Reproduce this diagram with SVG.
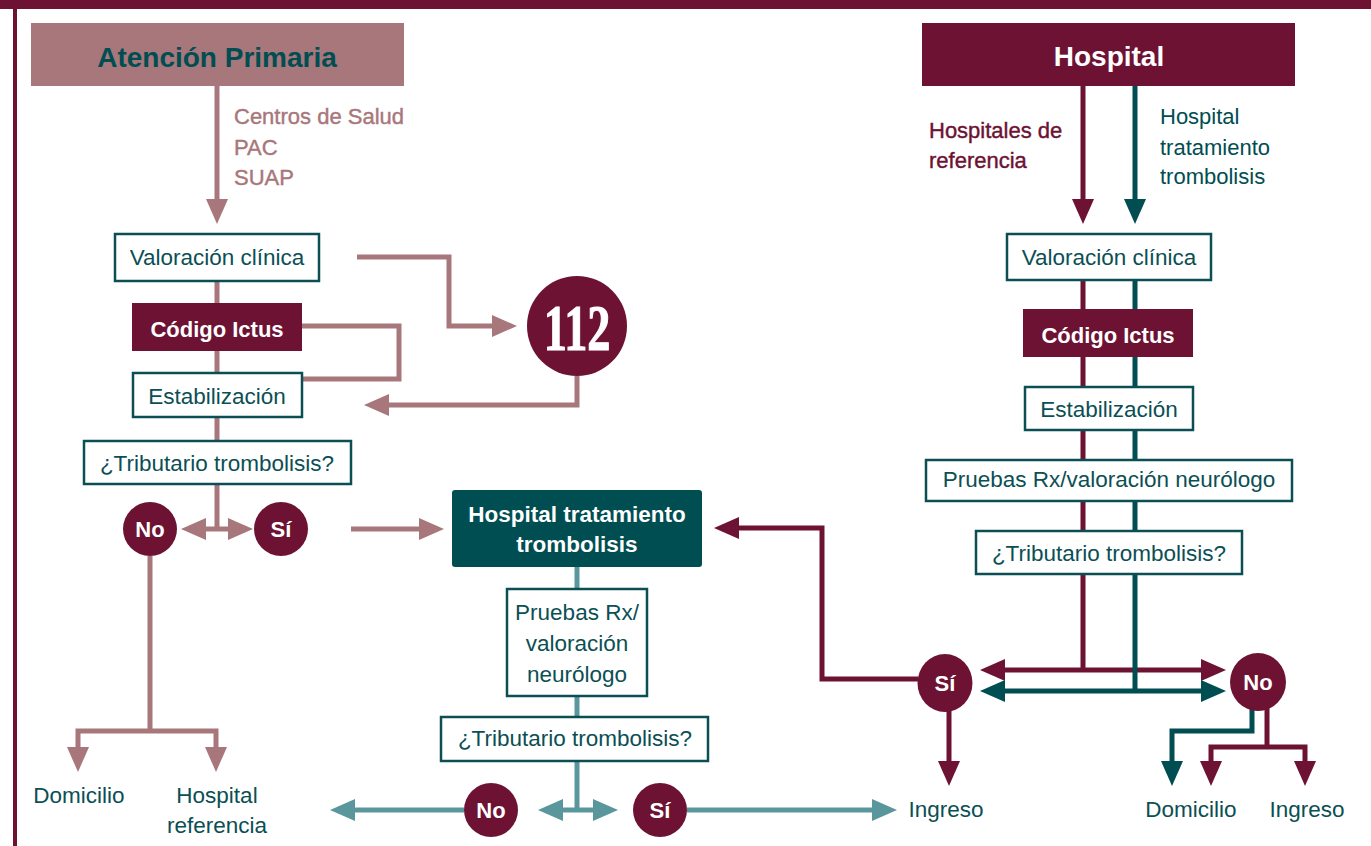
<svg xmlns="http://www.w3.org/2000/svg" width="1371" height="846" viewBox="0 0 1371 846">
<defs>
<style>
.t{font-family:"Liberation Sans",Arial,sans-serif;font-size:22.5px;fill:#0b4f55;text-anchor:middle}
.b{font-family:"Liberation Sans",Arial,sans-serif;font-weight:bold;fill:#fff;text-anchor:middle}
.box{fill:#fff;stroke:#0b4f55;stroke-width:2.5}
.mar{fill:#6d1233}
.c{fill:none;stroke-width:5;stroke-linejoin:miter}
.pk{stroke:#a8777b}
.mr{stroke:#6d1233}
.td{stroke:#004d52}
.tl{stroke:#5a979c}
</style>
<marker id="aPk" viewBox="0 0 25 22" refX="1" refY="11" markerWidth="25" markerHeight="22" markerUnits="userSpaceOnUse" orient="auto-start-reverse"><path d="M0,0 L25,11 L0,22 z" fill="#a8777b"/></marker>
<marker id="aMr" viewBox="0 0 25 22" refX="1" refY="11" markerWidth="25" markerHeight="22" markerUnits="userSpaceOnUse" orient="auto-start-reverse"><path d="M0,0 L25,11 L0,22 z" fill="#6d1233"/></marker>
<marker id="aTd" viewBox="0 0 25 22" refX="1" refY="11" markerWidth="25" markerHeight="22" markerUnits="userSpaceOnUse" orient="auto-start-reverse"><path d="M0,0 L25,11 L0,22 z" fill="#004d52"/></marker>
<marker id="aTl" viewBox="0 0 25 22" refX="1" refY="11" markerWidth="25" markerHeight="22" markerUnits="userSpaceOnUse" orient="auto-start-reverse"><path d="M0,0 L25,11 L0,22 z" fill="#5a979c"/></marker>
</defs>
<rect width="1371" height="846" fill="#fff"/>
<g id="frame">
<rect x="0" y="0" width="1371" height="9" fill="#6d1233"/>
<rect x="13" y="0" width="4" height="846" fill="#6d1233"/>
</g>

<g id="connectors">
<path class="c pk" d="M217,86 V200" marker-end="url(#aPk)"/>
<path class="c pk" d="M217,281 V529"/>
<path class="c pk" d="M205,529 H229" marker-start="url(#aPk)" marker-end="url(#aPk)"/>
<path class="c pk" d="M302,326 H399 V379 H302"/>
<path class="c pk" d="M357,257 H449 V326 H493" marker-end="url(#aPk)"/>
<path class="c pk" d="M577,376 V405 H388" marker-end="url(#aPk)"/>
<path class="c pk" d="M351,529 H420" marker-end="url(#aPk)"/>
<path class="c pk" d="M150,556 V731"/>
<path class="c pk" d="M78,748 V731 H216 V748" marker-start="url(#aPk)" marker-end="url(#aPk)"/>
<path class="c tl" d="M577,567 V810"/>
<path class="c tl" d="M562,810 H594" marker-start="url(#aTl)" marker-end="url(#aTl)"/>
<path class="c tl" d="M464,810 H354" marker-end="url(#aTl)"/>
<path class="c tl" d="M687,810 H873" marker-end="url(#aTl)"/>
<path class="c mr" d="M1083,86 V200" marker-end="url(#aMr)"/>
<path class="c mr" d="M1083,280 V670"/>
<path class="c mr" d="M1004,670 H1202" marker-start="url(#aMr)" marker-end="url(#aMr)"/>
<path class="c mr" d="M918,679 H822 V528 H738" marker-end="url(#aMr)"/>
<path class="c mr" d="M949,710 V762" marker-end="url(#aMr)"/>
<path class="c mr" d="M1267,708 V747"/>
<path class="c mr" d="M1211,762 V747 H1305 V762" marker-start="url(#aMr)" marker-end="url(#aMr)"/>
<path class="c td" d="M1135,86 V200" marker-end="url(#aTd)"/>
<path class="c td" d="M1135,280 V691"/>
<path class="c td" d="M1004,691 H1202" marker-start="url(#aTd)" marker-end="url(#aTd)"/>
<path class="c td" d="M1252,706 V731 H1172 V762" marker-end="url(#aTd)"/>
</g>

<g id="atencion-primaria">
<rect x="31" y="23" width="373" height="63" fill="#a8777b"/>
<text x="217" y="67" font-family="Liberation Sans,Arial,sans-serif" font-weight="bold" font-size="28" fill="#004d52" text-anchor="middle">Atención Primaria</text>
</g>
<g id="ap-label" font-family="Liberation Sans,Arial,sans-serif" font-size="22" fill="#a8777b" stroke="#a8777b" stroke-width="0.4">
<text x="234" y="124">Centros de Salud</text>
<text x="234" y="155">PAC</text>
<text x="234" y="185">SUAP</text>
</g>
<g id="l-valoracion"><rect class="box" x="115" y="234" width="204" height="47"/><text class="t" x="217" y="265">Valoración clínica</text></g>
<g id="l-codigo"><rect class="mar" x="132" y="303" width="170" height="48"/><text class="b" x="217" y="337" font-size="22">Código Ictus</text></g>
<g id="l-estab"><rect class="box" x="133" y="373" width="169" height="44"/><text class="t" x="217" y="404">Estabilización</text></g>
<g id="l-trib"><rect class="box" x="84" y="441" width="267" height="43"/><text class="t" x="217" y="471">¿Tributario trombolisis?</text></g>
<g id="l-no"><circle class="mar" cx="150" cy="529" r="27"/><text class="b" x="150" y="537" font-size="22">No</text></g>
<g id="l-si"><circle class="mar" cx="281" cy="529" r="27"/><text class="b" x="281" y="537" font-size="22">Sí</text></g>
<g id="n112"><circle class="mar" cx="577" cy="326" r="50"/><text transform="translate(577,350) scale(0.7,1)" x="0" y="0" font-family="Liberation Serif,serif" font-weight="bold" font-size="66" fill="#fff" stroke="#fff" stroke-width="1.2" text-anchor="middle">112</text></g>
<g id="l-out" font-family="Liberation Sans,Arial,sans-serif" font-size="22.5" fill="#0b4f55" text-anchor="middle">
<text x="79" y="803">Domicilio</text>
<text x="217" y="803">Hospital</text>
<text x="217" y="833">referencia</text>
</g>

<g id="m-hospital-tt"><rect x="452" y="490" width="250" height="77" rx="3" fill="#004d52"/>
<text class="b" x="577" y="522" font-size="22.5">Hospital tratamiento</text>
<text class="b" x="577" y="552" font-size="22.5">trombolisis</text></g>
<g id="m-pruebas"><rect class="box" x="507" y="589" width="140" height="107"/>
<text class="t" x="577" y="620">Pruebas Rx/</text>
<text class="t" x="577" y="651">valoración</text>
<text class="t" x="577" y="682">neurólogo</text></g>
<g id="m-trib"><rect class="box" x="441" y="717" width="267" height="44"/><text class="t" x="575" y="746">¿Tributario trombolisis?</text></g>
<g id="m-no"><circle class="mar" cx="491" cy="810" r="27"/><text class="b" x="491" y="818" font-size="22">No</text></g>
<g id="m-si"><circle class="mar" cx="660" cy="810" r="27"/><text class="b" x="660" y="818" font-size="22">Sí</text></g>
<text id="m-ingreso" class="t" x="946" y="817">Ingreso</text>

<g id="hospital"><rect x="922" y="23" width="373" height="63" class="mar"/><text class="b" x="1109" y="66" font-size="28">Hospital</text></g>
<g id="h-labels" font-family="Liberation Sans,Arial,sans-serif" font-size="22">
<text x="929" y="138" fill="#6d1233" stroke="#6d1233" stroke-width="0.4">Hospitales de</text>
<text x="929" y="168" fill="#6d1233" stroke="#6d1233" stroke-width="0.4">referencia</text>
<text x="1160" y="124" fill="#004d52">Hospital</text>
<text x="1160" y="155" fill="#004d52">tratamiento</text>
<text x="1160" y="184" fill="#004d52">trombolisis</text>
</g>
<g id="r-valoracion"><rect class="box" x="1007" y="234" width="204" height="46"/><text class="t" x="1109" y="265">Valoración clínica</text></g>
<g id="r-codigo"><rect class="mar" x="1023" y="309" width="170" height="48"/><text class="b" x="1108" y="343" font-size="22">Código Ictus</text></g>
<g id="r-estab"><rect class="box" x="1025" y="387" width="168" height="43"/><text class="t" x="1109" y="417">Estabilización</text></g>
<g id="r-pruebas"><rect class="box" x="926" y="460" width="366" height="41"/><text class="t" x="1109" y="487">Pruebas Rx/valoración neurólogo</text></g>
<g id="r-trib"><rect class="box" x="976" y="531" width="266" height="43"/><text class="t" x="1109" y="561">¿Tributario trombolisis?</text></g>
<g id="r-si"><ellipse class="mar" cx="945" cy="683" rx="27.5" ry="29"/><text class="b" x="945" y="691" font-size="22">Sí</text></g>
<g id="r-no"><ellipse class="mar" cx="1258" cy="682" rx="28" ry="29"/><text class="b" x="1258" y="690" font-size="22">No</text></g>
<g id="r-out" font-family="Liberation Sans,Arial,sans-serif" font-size="22.5" fill="#0b4f55" text-anchor="middle">
<text x="1191" y="817">Domicilio</text>
<text x="1307" y="817">Ingreso</text>
</g>
</svg>
